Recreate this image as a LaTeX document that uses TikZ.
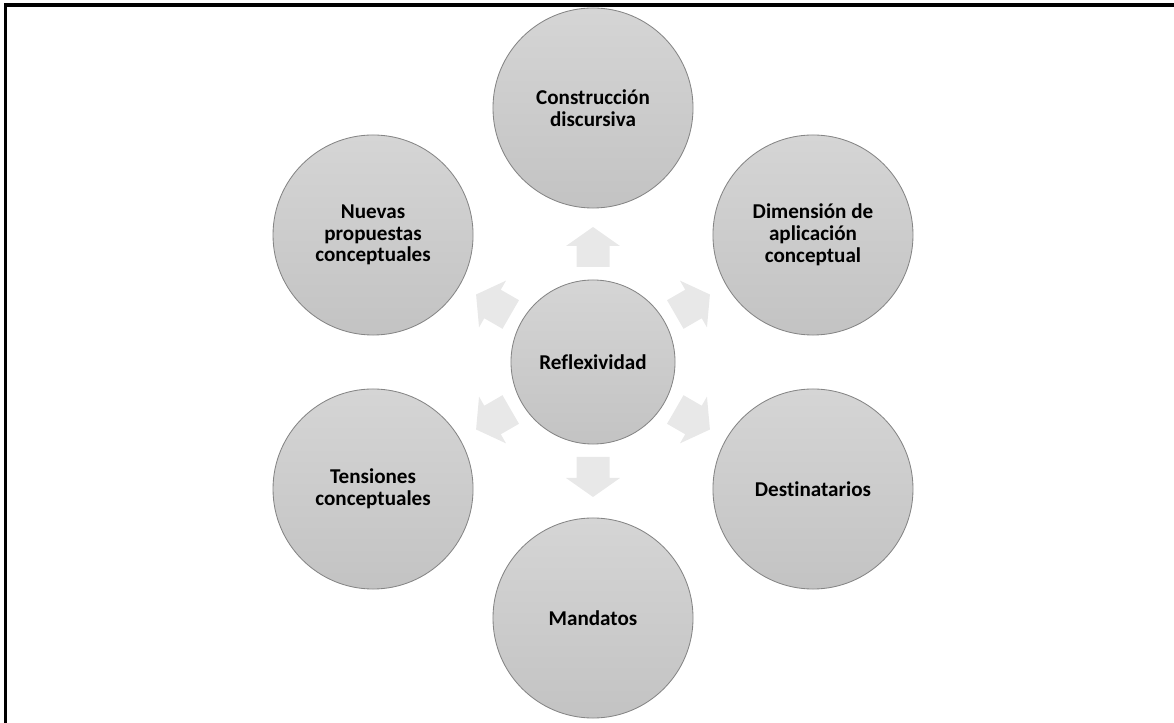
\documentclass[tikz,border=0pt]{standalone}
\usepackage{fontspec}
\setmainfont{Carlito}[Ligatures=NoCommon]
\usetikzlibrary{calc, positioning}

\definecolor{bubbletop}{HTML}{D5D5D5}
\definecolor{bubblebot}{HTML}{C3C3C3}
\definecolor{bubbleline}{HTML}{858585}
\definecolor{pale}{HTML}{E8E8E8}

\begin{document}
\begin{tikzpicture}[x=0.025cm, y=0.025cm]
	\tikzstyle{bubble} = [circle, draw=bubbleline, line width=0.6pt, top color=bubbletop, bottom color=bubblebot, minimum size=5cm, inner sep=0pt, align=center, font=\bfseries\fontsize{15}{15.5}\selectfont]
	\tikzstyle{hub} = [bubble, minimum size=4.1cm]

	\useasboundingbox (0,0) rectangle (1174,722);

	% frame
	\draw[line width=2.2pt] (5.5,-20) -- (5.5,717) -- (1190,717);

	\node[hub] (refl) at (593,360) {Reflexividad};

	\node[bubble] (constr) at ($(refl)+(90:254)$) {Construcción\\discursiva};
	\node[bubble] (dimen) at ($(refl)+(30:254)$) {Dimensión de\\aplicación\\conceptual};
	\node[bubble] (dest) at ($(refl)+(-30:254)$) {Destinatarios};
	\node[bubble] (mand) at ($(refl)+(-90:256)$) {Mandatos};
	\node[bubble] (tens) at ($(refl)+(-150:254)$) {Tensiones\\conceptuales};
	\node[bubble] (nuev) at ($(refl)+(150:254)$) {Nuevas\\propuestas\\conceptuales};

	% block arrows
	\foreach \a in {90,30,-30,-90,-150,150}
		\fill[pale, shift={(refl.center)}, rotate=\a]
			(95,-16.5) -- (116,-16.5) -- (116,-27) -- (135,0) -- (116,27) -- (116,16.5) -- (95,16.5) -- cycle;
\end{tikzpicture}
\end{document}
